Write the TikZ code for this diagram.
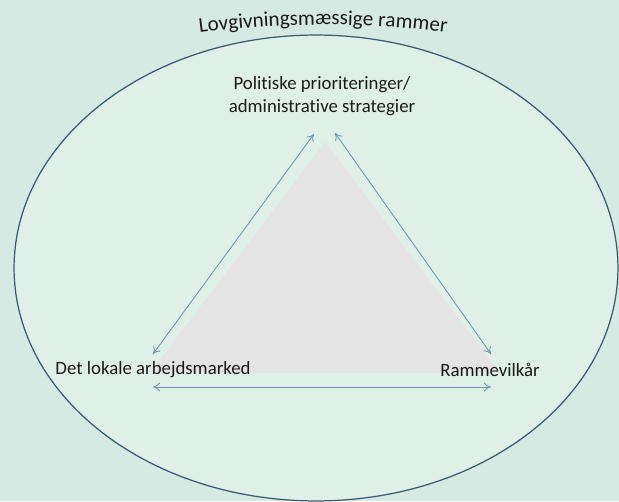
\documentclass[tikz,border=0pt]{standalone}
\usepackage{fontspec}
\setmainfont{Carlito}[Ligatures=NoCommon]
\usetikzlibrary{arrows.meta,decorations.text}

\definecolor{bgout}{HTML}{D5EAE2}
\definecolor{bgin}{HTML}{DFF0E8}
\definecolor{rimblue}{HTML}{3A5870}
\definecolor{arrowblue}{HTML}{6F95AC}
\definecolor{trigray}{HTML}{E4E4E4}
\definecolor{labeltext}{HTML}{1A1A1A}

\tikzset{
  label text/.style={text=labeltext, font=\fontsize{10.7}{13}\selectfont, inner sep=1pt},
  link/.style={draw=arrowblue, line width=0.5pt, {To[length=4pt,width=5pt]}-{To[length=4pt,width=5pt]}}
}

\begin{document}
\begin{tikzpicture}[x=0.02cm, y=-0.02cm]
    \useasboundingbox (0,0) rectangle (619,501);
    \fill[bgout] (0,0) rectangle (619,501);
    % outer frame
    \draw[fill=bgin, draw=rimblue, line width=0.7pt] (316,268) ellipse [x radius=6.04cm, y radius=4.66cm];
    \path[decorate, decoration={text along path, text align=center,
        text={|\color{labeltext}\fontsize{12}{15}\selectfont|Lovgivningsmæssige rammer}}]
        (198,33) .. controls (280,22) and (366,22) .. (448,33);
    % grey triangle
    \fill[trigray] (325,142) -- (500,373) -- (150,373) -- cycle;
    % corner labels
    \node[label text, align=center] (pol) at (322,96) {Politiske prioriteringer/\\administrative strategier};
    \node[label text] (lok) at (153,370) {Det lokale arbejdsmarked};
    \node[label text] (ram) at (490,370) {Rammevilkår};
    % arrow ends
    \coordinate (polL) at (314,134);
    \coordinate (polR) at (335,133);
    \coordinate (lokT) at (153,354);
    \coordinate (ramT) at (491,354);
    \coordinate (lokB) at (153,387);
    \coordinate (ramB) at (491,387);
    \draw[link] (lokT) -- (polL);
    \draw[link] (polR) -- (ramT);
    \draw[link] (lokB) -- (ramB);
\end{tikzpicture}
\end{document}
